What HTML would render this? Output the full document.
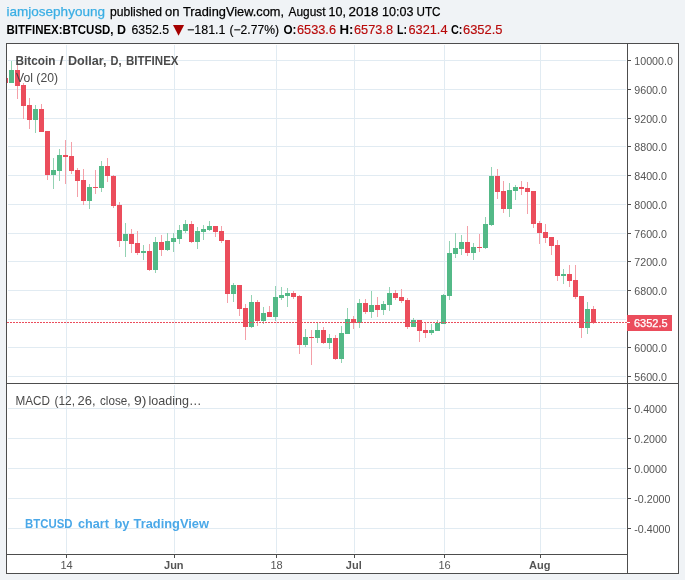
<!DOCTYPE html>
<html><head><meta charset="utf-8"><style>
html,body{margin:0;padding:0}
body{width:685px;height:580px;background:#f0f3f6;position:relative;overflow:hidden;font-family:"Liberation Sans",sans-serif}
svg{position:absolute;left:0;top:0;will-change:transform}
svg text{font-family:"Liberation Sans",sans-serif}
.ax{font-size:11px;fill:#555555}
.tx{font-size:11px;fill:#555555}
.b{font-weight:bold}
</style></head><body>
<svg width="685" height="580" viewBox="0 0 685 580">
<defs><clipPath id="cp"><rect x="7" y="44" width="620" height="339"/></clipPath></defs>
<rect x="6" y="43" width="673" height="531" fill="#ffffff"/>
<rect x="8" y="60" width="618" height="1" fill="#e1ebf2"/>
<rect x="8" y="89" width="618" height="1" fill="#e1ebf2"/>
<rect x="8" y="118" width="618" height="1" fill="#e1ebf2"/>
<rect x="8" y="146" width="618" height="1" fill="#e1ebf2"/>
<rect x="8" y="175" width="618" height="1" fill="#e1ebf2"/>
<rect x="8" y="204" width="618" height="1" fill="#e1ebf2"/>
<rect x="8" y="233" width="618" height="1" fill="#e1ebf2"/>
<rect x="8" y="261" width="618" height="1" fill="#e1ebf2"/>
<rect x="8" y="290" width="618" height="1" fill="#e1ebf2"/>
<rect x="8" y="319" width="618" height="1" fill="#e1ebf2"/>
<rect x="8" y="347" width="618" height="1" fill="#e1ebf2"/>
<rect x="8" y="376" width="618" height="1" fill="#e1ebf2"/>
<rect x="8" y="408" width="618" height="1" fill="#e1ebf2"/>
<rect x="8" y="438" width="618" height="1" fill="#e1ebf2"/>
<rect x="8" y="468" width="618" height="1" fill="#e1ebf2"/>
<rect x="8" y="498" width="618" height="1" fill="#e1ebf2"/>
<rect x="8" y="528" width="618" height="1" fill="#e1ebf2"/>
<rect x="66" y="45" width="1" height="338" fill="#e1ebf2"/>
<rect x="66" y="385" width="1" height="168" fill="#e1ebf2"/>
<rect x="174" y="45" width="1" height="338" fill="#e1ebf2"/>
<rect x="174" y="385" width="1" height="168" fill="#e1ebf2"/>
<rect x="276" y="45" width="1" height="338" fill="#e1ebf2"/>
<rect x="276" y="385" width="1" height="168" fill="#e1ebf2"/>
<rect x="354" y="45" width="1" height="338" fill="#e1ebf2"/>
<rect x="354" y="385" width="1" height="168" fill="#e1ebf2"/>
<rect x="444" y="45" width="1" height="338" fill="#e1ebf2"/>
<rect x="444" y="385" width="1" height="168" fill="#e1ebf2"/>
<rect x="540" y="45" width="1" height="338" fill="#e1ebf2"/>
<rect x="540" y="385" width="1" height="168" fill="#e1ebf2"/>
<g clip-path="url(#cp)"><rect x="5" y="78" width="1" height="5" fill="#f4a0a8"/><rect x="3" y="78" width="5" height="5" fill="#eb4d5c"/><rect x="11" y="61" width="1" height="22" fill="#93d2b3"/><rect x="9" y="70" width="5" height="13" fill="#53b987"/><rect x="17" y="65" width="1" height="34" fill="#f4a0a8"/><rect x="15" y="70" width="5" height="16" fill="#eb4d5c"/><rect x="23" y="83" width="1" height="36" fill="#f4a0a8"/><rect x="21" y="85" width="5" height="21" fill="#eb4d5c"/><rect x="29" y="98" width="1" height="31" fill="#f4a0a8"/><rect x="27" y="105" width="5" height="15" fill="#eb4d5c"/><rect x="35" y="105" width="1" height="28" fill="#93d2b3"/><rect x="33" y="109" width="5" height="11" fill="#53b987"/><rect x="41" y="104" width="1" height="28" fill="#f4a0a8"/><rect x="39" y="109" width="5" height="23" fill="#eb4d5c"/><rect x="47" y="131" width="1" height="49" fill="#f4a0a8"/><rect x="45" y="131" width="5" height="44" fill="#eb4d5c"/><rect x="53" y="158" width="1" height="31" fill="#93d2b3"/><rect x="51" y="170" width="5" height="5" fill="#53b987"/><rect x="59" y="149" width="1" height="32" fill="#93d2b3"/><rect x="57" y="155" width="5" height="16" fill="#53b987"/><rect x="65" y="140" width="1" height="44" fill="#f4a0a8"/><rect x="63" y="155" width="5" height="2" fill="#eb4d5c"/><rect x="71" y="142" width="1" height="32" fill="#f4a0a8"/><rect x="69" y="156" width="5" height="15" fill="#eb4d5c"/><rect x="77" y="168" width="1" height="29" fill="#f4a0a8"/><rect x="75" y="170" width="5" height="11" fill="#eb4d5c"/><rect x="83" y="169" width="1" height="36" fill="#f4a0a8"/><rect x="81" y="180" width="5" height="21" fill="#eb4d5c"/><rect x="89" y="184" width="1" height="25" fill="#93d2b3"/><rect x="87" y="187" width="5" height="14" fill="#53b987"/><rect x="95" y="170" width="1" height="24" fill="#f4a0a8"/><rect x="93" y="187" width="5" height="1" fill="#eb4d5c"/><rect x="101" y="161" width="1" height="31" fill="#93d2b3"/><rect x="99" y="166" width="5" height="22" fill="#53b987"/><rect x="107" y="158" width="1" height="24" fill="#f4a0a8"/><rect x="105" y="166" width="5" height="10" fill="#eb4d5c"/><rect x="113" y="175" width="1" height="33" fill="#f4a0a8"/><rect x="111" y="176" width="5" height="30" fill="#eb4d5c"/><rect x="119" y="202" width="1" height="45" fill="#f4a0a8"/><rect x="117" y="205" width="5" height="36" fill="#eb4d5c"/><rect x="125" y="223" width="1" height="34" fill="#93d2b3"/><rect x="123" y="234" width="5" height="7" fill="#53b987"/><rect x="131" y="229" width="1" height="24" fill="#f4a0a8"/><rect x="129" y="234" width="5" height="10" fill="#eb4d5c"/><rect x="137" y="231" width="1" height="24" fill="#f4a0a8"/><rect x="135" y="243" width="5" height="10" fill="#eb4d5c"/><rect x="143" y="245" width="1" height="15" fill="#93d2b3"/><rect x="141" y="251" width="5" height="2" fill="#53b987"/><rect x="149" y="244" width="1" height="27" fill="#f4a0a8"/><rect x="147" y="251" width="5" height="19" fill="#eb4d5c"/><rect x="155" y="237" width="1" height="36" fill="#93d2b3"/><rect x="153" y="242" width="5" height="28" fill="#53b987"/><rect x="161" y="235" width="1" height="21" fill="#f4a0a8"/><rect x="159" y="242" width="5" height="8" fill="#eb4d5c"/><rect x="167" y="233" width="1" height="18" fill="#93d2b3"/><rect x="165" y="241" width="5" height="9" fill="#53b987"/><rect x="173" y="233" width="1" height="19" fill="#93d2b3"/><rect x="171" y="238" width="5" height="4" fill="#53b987"/><rect x="179" y="225" width="1" height="19" fill="#93d2b3"/><rect x="177" y="230" width="5" height="9" fill="#53b987"/><rect x="185" y="220" width="1" height="13" fill="#93d2b3"/><rect x="183" y="224" width="5" height="7" fill="#53b987"/><rect x="191" y="221" width="1" height="22" fill="#f4a0a8"/><rect x="189" y="224" width="5" height="18" fill="#eb4d5c"/><rect x="197" y="227" width="1" height="22" fill="#93d2b3"/><rect x="195" y="231" width="5" height="11" fill="#53b987"/><rect x="203" y="225" width="1" height="15" fill="#93d2b3"/><rect x="201" y="229" width="5" height="3" fill="#53b987"/><rect x="209" y="221" width="1" height="10" fill="#93d2b3"/><rect x="207" y="226" width="5" height="4" fill="#53b987"/><rect x="215" y="226" width="1" height="11" fill="#f4a0a8"/><rect x="213" y="226" width="5" height="6" fill="#eb4d5c"/><rect x="221" y="226" width="1" height="17" fill="#f4a0a8"/><rect x="219" y="231" width="5" height="10" fill="#eb4d5c"/><rect x="227" y="240" width="1" height="63" fill="#f4a0a8"/><rect x="225" y="240" width="5" height="54" fill="#eb4d5c"/><rect x="233" y="283" width="1" height="19" fill="#93d2b3"/><rect x="231" y="285" width="5" height="9" fill="#53b987"/><rect x="239" y="285" width="1" height="31" fill="#f4a0a8"/><rect x="237" y="285" width="5" height="24" fill="#eb4d5c"/><rect x="245" y="304" width="1" height="36" fill="#f4a0a8"/><rect x="243" y="308" width="5" height="19" fill="#eb4d5c"/><rect x="251" y="295" width="1" height="33" fill="#93d2b3"/><rect x="249" y="302" width="5" height="25" fill="#53b987"/><rect x="257" y="300" width="1" height="26" fill="#f4a0a8"/><rect x="255" y="302" width="5" height="19" fill="#eb4d5c"/><rect x="263" y="307" width="1" height="17" fill="#93d2b3"/><rect x="261" y="313" width="5" height="8" fill="#53b987"/><rect x="269" y="306" width="1" height="11" fill="#f4a0a8"/><rect x="267" y="312" width="5" height="5" fill="#eb4d5c"/><rect x="275" y="286" width="1" height="35" fill="#93d2b3"/><rect x="273" y="297" width="5" height="20" fill="#53b987"/><rect x="281" y="287" width="1" height="13" fill="#93d2b3"/><rect x="279" y="295" width="5" height="3" fill="#53b987"/><rect x="287" y="288" width="1" height="19" fill="#93d2b3"/><rect x="285" y="293" width="5" height="3" fill="#53b987"/><rect x="293" y="291" width="1" height="8" fill="#f4a0a8"/><rect x="291" y="293" width="5" height="4" fill="#eb4d5c"/><rect x="299" y="295" width="1" height="59" fill="#f4a0a8"/><rect x="297" y="296" width="5" height="49" fill="#eb4d5c"/><rect x="305" y="329" width="1" height="18" fill="#93d2b3"/><rect x="303" y="337" width="5" height="8" fill="#53b987"/><rect x="311" y="330" width="1" height="35" fill="#f4a0a8"/><rect x="309" y="337" width="5" height="1" fill="#eb4d5c"/><rect x="317" y="323" width="1" height="20" fill="#93d2b3"/><rect x="315" y="330" width="5" height="8" fill="#53b987"/><rect x="323" y="327" width="1" height="17" fill="#f4a0a8"/><rect x="321" y="330" width="5" height="13" fill="#eb4d5c"/><rect x="329" y="334" width="1" height="15" fill="#93d2b3"/><rect x="327" y="338" width="5" height="5" fill="#53b987"/><rect x="335" y="335" width="1" height="25" fill="#f4a0a8"/><rect x="333" y="338" width="5" height="21" fill="#eb4d5c"/><rect x="341" y="326" width="1" height="37" fill="#93d2b3"/><rect x="339" y="333" width="5" height="26" fill="#53b987"/><rect x="347" y="308" width="1" height="26" fill="#93d2b3"/><rect x="345" y="319" width="5" height="15" fill="#53b987"/><rect x="353" y="316" width="1" height="13" fill="#f4a0a8"/><rect x="351" y="319" width="5" height="4" fill="#eb4d5c"/><rect x="359" y="299" width="1" height="29" fill="#93d2b3"/><rect x="357" y="303" width="5" height="20" fill="#53b987"/><rect x="365" y="299" width="1" height="15" fill="#f4a0a8"/><rect x="363" y="303" width="5" height="9" fill="#eb4d5c"/><rect x="371" y="291" width="1" height="27" fill="#93d2b3"/><rect x="369" y="305" width="5" height="7" fill="#53b987"/><rect x="377" y="297" width="1" height="20" fill="#f4a0a8"/><rect x="375" y="305" width="5" height="5" fill="#eb4d5c"/><rect x="383" y="301" width="1" height="14" fill="#93d2b3"/><rect x="381" y="304" width="5" height="6" fill="#53b987"/><rect x="389" y="287" width="1" height="24" fill="#93d2b3"/><rect x="387" y="293" width="5" height="12" fill="#53b987"/><rect x="395" y="290" width="1" height="10" fill="#f4a0a8"/><rect x="393" y="293" width="5" height="5" fill="#eb4d5c"/><rect x="401" y="289" width="1" height="14" fill="#f4a0a8"/><rect x="399" y="297" width="5" height="4" fill="#eb4d5c"/><rect x="407" y="298" width="1" height="31" fill="#f4a0a8"/><rect x="405" y="300" width="5" height="27" fill="#eb4d5c"/><rect x="413" y="318" width="1" height="9" fill="#93d2b3"/><rect x="411" y="320" width="5" height="7" fill="#53b987"/><rect x="419" y="320" width="1" height="22" fill="#f4a0a8"/><rect x="417" y="320" width="5" height="11" fill="#eb4d5c"/><rect x="425" y="323" width="1" height="15" fill="#f4a0a8"/><rect x="423" y="330" width="5" height="3" fill="#eb4d5c"/><rect x="431" y="324" width="1" height="11" fill="#93d2b3"/><rect x="429" y="330" width="5" height="3" fill="#53b987"/><rect x="437" y="320" width="1" height="11" fill="#93d2b3"/><rect x="435" y="323" width="5" height="8" fill="#53b987"/><rect x="443" y="294" width="1" height="30" fill="#93d2b3"/><rect x="441" y="295" width="5" height="29" fill="#53b987"/><rect x="449" y="241" width="1" height="59" fill="#93d2b3"/><rect x="447" y="253" width="5" height="43" fill="#53b987"/><rect x="455" y="233" width="1" height="25" fill="#93d2b3"/><rect x="453" y="248" width="5" height="6" fill="#53b987"/><rect x="461" y="235" width="1" height="20" fill="#93d2b3"/><rect x="459" y="242" width="5" height="7" fill="#53b987"/><rect x="467" y="226" width="1" height="30" fill="#f4a0a8"/><rect x="465" y="242" width="5" height="11" fill="#eb4d5c"/><rect x="473" y="243" width="1" height="17" fill="#93d2b3"/><rect x="471" y="247" width="5" height="6" fill="#53b987"/><rect x="479" y="234" width="1" height="18" fill="#f4a0a8"/><rect x="477" y="247" width="5" height="1" fill="#eb4d5c"/><rect x="485" y="217" width="1" height="32" fill="#93d2b3"/><rect x="483" y="224" width="5" height="24" fill="#53b987"/><rect x="491" y="167" width="1" height="59" fill="#93d2b3"/><rect x="489" y="176" width="5" height="49" fill="#53b987"/><rect x="497" y="169" width="1" height="30" fill="#f4a0a8"/><rect x="495" y="176" width="5" height="16" fill="#eb4d5c"/><rect x="503" y="181" width="1" height="32" fill="#f4a0a8"/><rect x="501" y="191" width="5" height="18" fill="#eb4d5c"/><rect x="509" y="183" width="1" height="34" fill="#93d2b3"/><rect x="507" y="190" width="5" height="19" fill="#53b987"/><rect x="515" y="185" width="1" height="15" fill="#93d2b3"/><rect x="513" y="187" width="5" height="4" fill="#53b987"/><rect x="521" y="181" width="1" height="14" fill="#f4a0a8"/><rect x="519" y="187" width="5" height="2" fill="#eb4d5c"/><rect x="527" y="182" width="1" height="32" fill="#f4a0a8"/><rect x="525" y="188" width="5" height="4" fill="#eb4d5c"/><rect x="533" y="191" width="1" height="37" fill="#f4a0a8"/><rect x="531" y="191" width="5" height="33" fill="#eb4d5c"/><rect x="539" y="221" width="1" height="23" fill="#f4a0a8"/><rect x="537" y="223" width="5" height="10" fill="#eb4d5c"/><rect x="545" y="224" width="1" height="19" fill="#f4a0a8"/><rect x="543" y="232" width="5" height="6" fill="#eb4d5c"/><rect x="551" y="237" width="1" height="18" fill="#f4a0a8"/><rect x="549" y="237" width="5" height="9" fill="#eb4d5c"/><rect x="557" y="240" width="1" height="41" fill="#f4a0a8"/><rect x="555" y="245" width="5" height="31" fill="#eb4d5c"/><rect x="563" y="269" width="1" height="15" fill="#93d2b3"/><rect x="561" y="274" width="5" height="2" fill="#53b987"/><rect x="569" y="265" width="1" height="22" fill="#f4a0a8"/><rect x="567" y="274" width="5" height="7" fill="#eb4d5c"/><rect x="575" y="265" width="1" height="34" fill="#f4a0a8"/><rect x="573" y="280" width="5" height="17" fill="#eb4d5c"/><rect x="581" y="296" width="1" height="42" fill="#f4a0a8"/><rect x="579" y="296" width="5" height="32" fill="#eb4d5c"/><rect x="587" y="302" width="1" height="32" fill="#93d2b3"/><rect x="585" y="309" width="5" height="19" fill="#53b987"/><rect x="593" y="306" width="1" height="18" fill="#f4a0a8"/><rect x="591" y="309" width="5" height="14" fill="#eb4d5c"/></g>
<line x1="7" y1="322.5" x2="627" y2="322.5" stroke="#eb4d5c" stroke-width="1" stroke-dasharray="2 1"/>
<rect x="6" y="43" width="673" height="1" fill="#4d4d4d"/>
<rect x="6" y="573" width="673" height="1" fill="#4d4d4d"/>
<rect x="6" y="43" width="1" height="531" fill="#4d4d4d"/>
<rect x="678" y="43" width="1" height="531" fill="#4d4d4d"/>
<rect x="627" y="43" width="1" height="531" fill="#4d4d4d"/>
<rect x="6" y="383" width="673" height="1" fill="#4d4d4d"/>
<rect x="6" y="554" width="622" height="1" fill="#4d4d4d"/>
<rect x="628" y="60" width="3" height="1" fill="#4d4d4d"/>
<text x="634.3" y="65" class="ax" textLength="38.57" lengthAdjust="spacingAndGlyphs">10000.0</text>
<rect x="628" y="89" width="3" height="1" fill="#4d4d4d"/>
<text x="634.3" y="94" class="ax" textLength="32.63" lengthAdjust="spacingAndGlyphs">9600.0</text>
<rect x="628" y="118" width="3" height="1" fill="#4d4d4d"/>
<text x="634.3" y="123" class="ax" textLength="32.63" lengthAdjust="spacingAndGlyphs">9200.0</text>
<rect x="628" y="146" width="3" height="1" fill="#4d4d4d"/>
<text x="634.3" y="151" class="ax" textLength="32.63" lengthAdjust="spacingAndGlyphs">8800.0</text>
<rect x="628" y="175" width="3" height="1" fill="#4d4d4d"/>
<text x="634.3" y="180" class="ax" textLength="32.63" lengthAdjust="spacingAndGlyphs">8400.0</text>
<rect x="628" y="204" width="3" height="1" fill="#4d4d4d"/>
<text x="634.3" y="209" class="ax" textLength="32.63" lengthAdjust="spacingAndGlyphs">8000.0</text>
<rect x="628" y="233" width="3" height="1" fill="#4d4d4d"/>
<text x="634.3" y="238" class="ax" textLength="32.63" lengthAdjust="spacingAndGlyphs">7600.0</text>
<rect x="628" y="261" width="3" height="1" fill="#4d4d4d"/>
<text x="634.3" y="266" class="ax" textLength="32.63" lengthAdjust="spacingAndGlyphs">7200.0</text>
<rect x="628" y="290" width="3" height="1" fill="#4d4d4d"/>
<text x="634.3" y="295" class="ax" textLength="32.63" lengthAdjust="spacingAndGlyphs">6800.0</text>
<rect x="628" y="347" width="3" height="1" fill="#4d4d4d"/>
<text x="634.3" y="352" class="ax" textLength="32.63" lengthAdjust="spacingAndGlyphs">6000.0</text>
<rect x="628" y="376" width="3" height="1" fill="#4d4d4d"/>
<text x="634.3" y="381" class="ax" textLength="32.63" lengthAdjust="spacingAndGlyphs">5600.0</text>
<rect x="628" y="408" width="3" height="1" fill="#4d4d4d"/>
<text x="634.3" y="413" class="ax" textLength="32.63" lengthAdjust="spacingAndGlyphs">0.4000</text>
<rect x="628" y="438" width="3" height="1" fill="#4d4d4d"/>
<text x="634.3" y="443" class="ax" textLength="32.63" lengthAdjust="spacingAndGlyphs">0.2000</text>
<rect x="628" y="468" width="3" height="1" fill="#4d4d4d"/>
<text x="634.3" y="473" class="ax" textLength="32.63" lengthAdjust="spacingAndGlyphs">0.0000</text>
<rect x="628" y="498" width="3" height="1" fill="#4d4d4d"/>
<text x="634.3" y="503" class="ax" textLength="36.19" lengthAdjust="spacingAndGlyphs">-0.2000</text>
<rect x="628" y="528" width="3" height="1" fill="#4d4d4d"/>
<text x="634.3" y="533" class="ax" textLength="36.19" lengthAdjust="spacingAndGlyphs">-0.4000</text>
<rect x="627" y="315" width="45" height="16" fill="#eb4d5c"/>
<rect x="627" y="322" width="3" height="1" fill="#ffffff"/>
<text x="634" y="327" class="ax" style="fill:#fff" stroke="#fff" stroke-width="0.25">6352.5</text>
<rect x="66" y="555" width="1" height="3" fill="#4d4d4d"/>
<text x="66.5" y="569" class="tx" text-anchor="middle">14</text>
<rect x="174" y="555" width="1" height="3" fill="#4d4d4d"/>
<text x="173.8" y="569" class="tx b" text-anchor="middle">Jun</text>
<rect x="276" y="555" width="1" height="3" fill="#4d4d4d"/>
<text x="276.5" y="569" class="tx" text-anchor="middle">18</text>
<rect x="354" y="555" width="1" height="3" fill="#4d4d4d"/>
<text x="353.8" y="569" class="tx b" text-anchor="middle">Jul</text>
<rect x="444" y="555" width="1" height="3" fill="#4d4d4d"/>
<text x="444.5" y="569" class="tx" text-anchor="middle">16</text>
<rect x="540" y="555" width="1" height="3" fill="#4d4d4d"/>
<text x="539.8" y="569" class="tx b" text-anchor="middle">Aug</text>
<text x="15.5" y="64.6" font-size="12.6" font-weight="bold" textLength="40.0" lengthAdjust="spacingAndGlyphs" fill="#4a4a4a">Bitcoin</text>
<text x="59.5" y="64.6" font-size="12.6" font-weight="bold" textLength="4.0" lengthAdjust="spacingAndGlyphs" fill="#4a4a4a">/</text>
<text x="68.0" y="64.6" font-size="12.6" font-weight="bold" textLength="38.5" lengthAdjust="spacingAndGlyphs" fill="#4a4a4a">Dollar,</text>
<text x="110.5" y="64.6" font-size="12.6" font-weight="bold" textLength="11.0" lengthAdjust="spacingAndGlyphs" fill="#4a4a4a">D,</text>
<text x="126.0" y="64.6" font-size="12.6" font-weight="bold" textLength="52.5" lengthAdjust="spacingAndGlyphs" fill="#4a4a4a">BITFINEX</text>
<text x="16.0" y="81.6" font-size="12" textLength="42.0" lengthAdjust="spacingAndGlyphs" fill="#4a4a4a">Vol (20)</text>
<text x="15.5" y="404.8" font-size="13" textLength="34.5" lengthAdjust="spacingAndGlyphs" fill="#4a4a4a">MACD</text>
<text x="54.5" y="404.8" font-size="13" textLength="20.5" lengthAdjust="spacingAndGlyphs" fill="#4a4a4a">(12,</text>
<text x="77.5" y="404.8" font-size="13" textLength="18.0" lengthAdjust="spacingAndGlyphs" fill="#4a4a4a">26,</text>
<text x="100.0" y="404.8" font-size="13" textLength="30.5" lengthAdjust="spacingAndGlyphs" fill="#4a4a4a">close,</text>
<text x="134.0" y="404.8" font-size="13" textLength="12.5" lengthAdjust="spacingAndGlyphs" fill="#4a4a4a">9)</text>
<text x="148.5" y="404.8" font-size="13" textLength="53.0" lengthAdjust="spacingAndGlyphs" fill="#4a4a4a">loading…</text>
<text x="25.0" y="528.4" font-size="13.4" font-weight="bold" textLength="47.5" lengthAdjust="spacingAndGlyphs" fill="#4aa8e8">BTCUSD</text>
<text x="78.0" y="528.4" font-size="13.4" font-weight="bold" textLength="31.0" lengthAdjust="spacingAndGlyphs" fill="#4aa8e8">chart</text>
<text x="114.5" y="528.4" font-size="13.4" font-weight="bold" textLength="15.0" lengthAdjust="spacingAndGlyphs" fill="#4aa8e8">by</text>
<text x="133.5" y="528.4" font-size="13.4" font-weight="bold" textLength="75.5" lengthAdjust="spacingAndGlyphs" fill="#4aa8e8">TradingView</text>
<text x="6.5" y="16" font-size="13.5" stroke="#3aaee4" stroke-width="0.25" textLength="98.5" lengthAdjust="spacingAndGlyphs" fill="#3aaee4">iamjosephyoung</text>
<text x="110.0" y="16" font-size="13.5" stroke="#000000" stroke-width="0.25" textLength="52.0" lengthAdjust="spacingAndGlyphs" fill="#000000">published</text>
<text x="165.0" y="16" font-size="13.5" stroke="#000000" stroke-width="0.25" textLength="14.5" lengthAdjust="spacingAndGlyphs" fill="#000000">on</text>
<text x="183.0" y="16" font-size="13.5" stroke="#000000" stroke-width="0.25" textLength="101.0" lengthAdjust="spacingAndGlyphs" fill="#000000">TradingView.com,</text>
<text x="288.5" y="16" font-size="13.5" stroke="#000000" stroke-width="0.25" textLength="37.0" lengthAdjust="spacingAndGlyphs" fill="#000000">August</text>
<text x="328.5" y="16" font-size="13.5" stroke="#000000" stroke-width="0.25" textLength="17.5" lengthAdjust="spacingAndGlyphs" fill="#000000">10,</text>
<text x="348.5" y="16" font-size="13.5" stroke="#000000" stroke-width="0.25" textLength="30.0" lengthAdjust="spacingAndGlyphs" fill="#000000">2018</text>
<text x="382.0" y="16" font-size="13.5" stroke="#000000" stroke-width="0.25" textLength="31.5" lengthAdjust="spacingAndGlyphs" fill="#000000">10:03</text>
<text x="416.5" y="16" font-size="13.5" stroke="#000000" stroke-width="0.25" textLength="24.0" lengthAdjust="spacingAndGlyphs" fill="#000000">UTC</text>
<text x="6.5" y="34" font-size="12.5" font-weight="bold" textLength="107.0" lengthAdjust="spacingAndGlyphs" fill="#000000">BITFINEX:BTCUSD,</text>
<text x="117.0" y="34" font-size="12.5" font-weight="bold" textLength="9.0" lengthAdjust="spacingAndGlyphs" fill="#000000">D</text>
<text x="131.5" y="34" font-size="12.2" stroke="#000000" stroke-width="0.15" textLength="37.5" lengthAdjust="spacingAndGlyphs" fill="#000000">6352.5</text>
<text x="187.0" y="34" font-size="12.2" stroke="#000000" stroke-width="0.15" textLength="38.5" lengthAdjust="spacingAndGlyphs" fill="#000000">−181.1</text>
<text x="229.5" y="34" font-size="12.2" stroke="#000000" stroke-width="0.15" textLength="49.5" lengthAdjust="spacingAndGlyphs" fill="#000000">(−2.77%)</text>
<text x="283.5" y="34" font-size="12.5" font-weight="bold" textLength="13.0" lengthAdjust="spacingAndGlyphs" fill="#000000">O:</text>
<text x="297.0" y="34" font-size="12.2" stroke="#b80a0a" stroke-width="0.15" textLength="39.0" lengthAdjust="spacingAndGlyphs" fill="#b80a0a">6533.6</text>
<text x="339.5" y="34" font-size="12.5" font-weight="bold" textLength="14.0" lengthAdjust="spacingAndGlyphs" fill="#000000">H:</text>
<text x="354.0" y="34" font-size="12.2" stroke="#b80a0a" stroke-width="0.15" textLength="39.0" lengthAdjust="spacingAndGlyphs" fill="#b80a0a">6573.8</text>
<text x="397.0" y="34" font-size="12.5" font-weight="bold" textLength="10.0" lengthAdjust="spacingAndGlyphs" fill="#000000">L:</text>
<text x="408.5" y="34" font-size="12.2" stroke="#b80a0a" stroke-width="0.15" textLength="39.0" lengthAdjust="spacingAndGlyphs" fill="#b80a0a">6321.4</text>
<text x="451.0" y="34" font-size="12.5" font-weight="bold" textLength="11.5" lengthAdjust="spacingAndGlyphs" fill="#000000">C:</text>
<text x="463.0" y="34" font-size="12.2" stroke="#b80a0a" stroke-width="0.15" textLength="39.5" lengthAdjust="spacingAndGlyphs" fill="#b80a0a">6352.5</text>
<polygon points="173,25.1 184.1,25.1 178.55,35.8" fill="#a50000"/>
</svg>
</body></html>
